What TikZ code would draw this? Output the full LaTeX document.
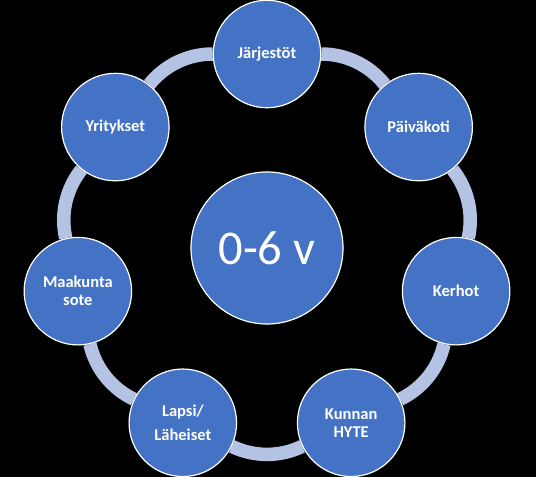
\documentclass[tikz,border=0pt]{standalone}
\usepackage{fontspec}
\setmainfont{Carlito}
\usetikzlibrary{backgrounds}
\definecolor{nodeblue}{RGB}{68,114,196}
\definecolor{ringblue}{RGB}{180,194,228}
\tikzset{
  hub/.style={circle, fill=nodeblue, draw=white, line width=1.2pt, minimum size=152pt, inner sep=0pt, text=white, font=\fontsize{48.5pt}{50pt}\selectfont},
  sat/.style={circle, fill=nodeblue, draw=white, line width=1.2pt, minimum size=107.5pt, inner sep=0pt, text=white, align=center, font=\bfseries\fontsize{16.5pt}{17.8pt}\selectfont},
  ring/.style={draw=ringblue, line width=13.5pt, bend left=25.71, looseness=0.9}
}
\begin{document}
\begin{tikzpicture}[x=1pt,y=1pt]
  \useasboundingbox (-267,-229) rectangle (269,248);
  \node[hub] (c) at (0,0) {0-6 v};
  \node[sat] (n0) at (90:194) {Järjestöt};
  \node[sat] (n1) at (38.571:194) {Päiväkoti};
  \node[sat] (n2) at (-12.857:194) {Kerhot};
  \node[sat] (n3) at (-64.286:194) {Kunnan\\HYTE};
  \node[sat] (n4) at (-115.714:194) {Lapsi/\\[6.5pt]Läheiset};
  \node[sat] (n5) at (-167.143:194) {Maakunta\\sote};
  \node[sat] (n6) at (141.429:194) {Yritykset};
  \begin{pgfonlayer}{background}
    \fill[black] (-267,-229) rectangle (269,248);
    \draw[ring] (n0) to (n1);
    \draw[ring] (n1) to (n2);
    \draw[ring] (n2) to (n3);
    \draw[ring] (n3) to (n4);
    \draw[ring] (n4) to (n5);
    \draw[ring] (n5) to (n6);
    \draw[ring] (n6) to (n0);
  \end{pgfonlayer}
\end{tikzpicture}
\end{document}
